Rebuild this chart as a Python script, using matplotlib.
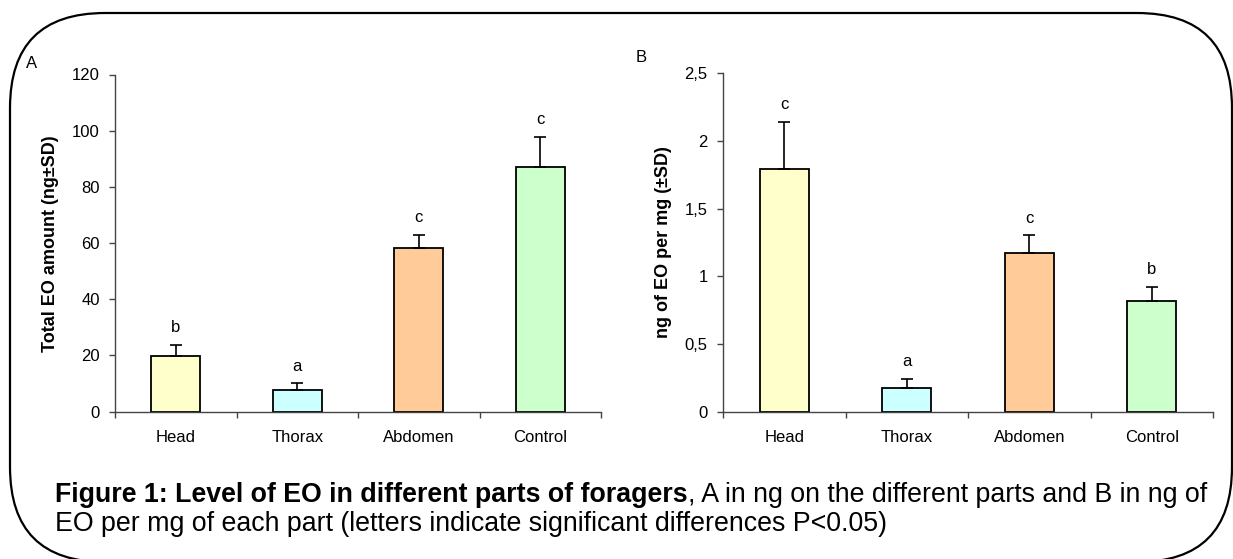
import matplotlib
matplotlib.use('Agg')
import matplotlib.pyplot as plt
import matplotlib.patches as mpatches
from matplotlib.transforms import IdentityTransform
from matplotlib.ticker import FixedLocator, FuncFormatter, NullFormatter

categories = ['Head', 'Thorax', 'Abdomen', 'Control']
bar_colors = ['#FFFFCC', '#CCFFFF', '#FFCC99', '#CCFFCC']

total_eo = [19.7, 7.7, 58.3, 87.2]
total_eo_sd = [4.0, 2.3, 4.6, 10.6]
total_letters = ['b', 'a', 'c', 'c']
total_ticks = [0, 20, 40, 60, 80, 100, 120]

per_mg = [1.79, 0.177, 1.17, 0.818]
per_mg_sd = [0.352, 0.065, 0.135, 0.105]
per_mg_letters = ['c', 'a', 'c', 'b']
per_mg_ticks = [0, 0.5, 1, 1.5, 2, 2.5]

W, H = 1233, 559
plt.rcParams['font.family'] = ['Liberation Sans', 'DejaVu Sans']
fig = plt.figure(figsize=(W / 100, H / 100), dpi=100)


def px_axes(left, right, top, bottom):
    return fig.add_axes([left / W, 1 - bottom / H, (right - left) / W, (bottom - top) / H])


def draw_panel(ax, values, sds, letters, ticks, fmt):
    x = list(range(1, len(categories) + 1))
    ax.bar(x, values, width=0.4, color=bar_colors, edgecolor='black', linewidth=1.3, zorder=2)
    ax.errorbar(x, values, yerr=[[0] * len(sds), sds], fmt='none', ecolor='black',
                elinewidth=1.2, capsize=4.5, capthick=1.2, zorder=3)
    for xi, v, s, l in zip(x, values, sds, letters):
        ax.annotate(l, (xi, v + s), xytext=(0, 9), textcoords='offset points',
                    ha='center', va='baseline', fontsize=12)
    ax.set_xlim(0.5, len(categories) + 0.5)
    ax.set_ylim(ticks[0], ticks[-1])
    ax.yaxis.set_major_locator(FixedLocator(ticks))
    ax.yaxis.set_major_formatter(FuncFormatter(fmt))
    ax.xaxis.set_major_locator(FixedLocator([i + 0.5 for i in range(len(categories) + 1)]))
    ax.xaxis.set_major_formatter(NullFormatter())
    ax.xaxis.set_minor_locator(FixedLocator(x))
    ax.xaxis.set_minor_formatter(FuncFormatter(lambda v, p: categories[int(round(v)) - 1]))
    ax.tick_params(axis='x', which='major', direction='out', length=4, width=1, color='#444444')
    ax.tick_params(axis='x', which='minor', length=0, pad=13, labelsize=12)
    ax.tick_params(axis='y', direction='out', length=4, width=1, color='#444444', pad=7, labelsize=12)
    for side in ('top', 'right'):
        ax.spines[side].set_visible(False)
    for side in ('left', 'bottom'):
        ax.spines[side].set_color('#444444')
        ax.spines[side].set_linewidth(1)


axA = px_axes(115, 601, 74.5, 411.5)
draw_panel(axA, total_eo, total_eo_sd, total_letters, total_ticks, lambda v, p: f'{v:g}')
axB = px_axes(723, 1213, 73.3, 411.7)
draw_panel(axB, per_mg, per_mg_sd, per_mg_letters, per_mg_ticks,
           lambda v, p: f'{v:g}'.replace('.', ','))

fig.text(32 / W, 1 - 64 / H, 'A', fontsize=12, ha='center', va='center')
fig.text(641 / W, 1 - 57 / H, 'B', fontsize=12, ha='center', va='center')
fig.text(51 / W, 1 - 244 / H, 'Total EO amount (ng±SD)', rotation=90, fontsize=13,
         fontweight='bold', ha='center', va='center')
fig.text(664 / W, 1 - 242 / H, 'ng of EO per mg (±SD)', rotation=90, fontsize=13,
         fontweight='bold', ha='center', va='center')

# caption
cap_size = 19.3
t1 = fig.text(55 / W, 1 - 502 / H, 'Figure 1: Level of EO in different parts of foragers',
              fontsize=cap_size, fontweight='bold', ha='left', va='baseline')
renderer = fig.canvas.get_renderer()
bb = t1.get_window_extent(renderer=renderer)
fig.text(bb.x1 / W, 1 - 502 / H, ', A in ng on the different parts and B in ng of',
         fontsize=cap_size, ha='left', va='baseline')
fig.text(55 / W, 1 - 531 / H,
         'EO per mg of each part (letters indicate significant differences P<0.05)',
         fontsize=cap_size, ha='left', va='baseline')

# rounded frame
frame = mpatches.FancyBboxPatch((10, -3), 1222, H - 13 + 3,
                                boxstyle='round,pad=0,rounding_size=95',
                                fill=False, edgecolor='black', linewidth=1.6,
                                transform=IdentityTransform())
fig.add_artist(frame)

fig.savefig('out.png', dpi=100)
